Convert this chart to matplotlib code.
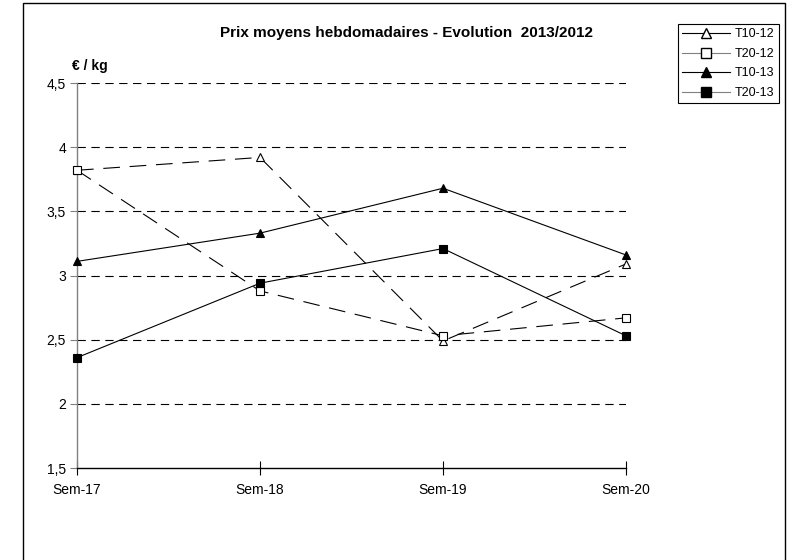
import matplotlib
matplotlib.use("Agg")
import matplotlib.pyplot as plt
from matplotlib.lines import Line2D
from matplotlib.patches import Rectangle

plt.rcParams['font.family'] = ['Liberation Sans', 'DejaVu Sans']
plt.rcParams['lines.scale_dashes'] = False

weeks = ["Sem-17", "Sem-18", "Sem-19", "Sem-20"]
t10_12 = [3.82, 3.92, 2.49, 3.09]
t20_12 = [3.82, 2.88, 2.53, 2.67]
t10_13 = [3.11, 3.33, 3.68, 3.16]
t20_13 = [2.36, 2.94, 3.21, 2.53]
yticks = [1.5, 2, 2.5, 3, 3.5, 4, 4.5]
ytick_labels = ["1,5", "2", "2,5", "3", "3,5", "4", "4,5"]

W, H = 794, 560
fig = plt.figure(figsize=(W / 100, H / 100), dpi=100)
ax = fig.add_axes([77 / W, 1 - 468 / H, (626 - 77) / W, (468 - 83) / H])

x = list(range(len(weeks)))
long_dash = (0, (12, 7))

ax.plot(x, t10_12, color='black', lw=0.8, linestyle=long_dash, marker='^',
        mfc='white', mec='black', ms=6, mew=0.8, clip_on=False, zorder=3)
ax.plot(x, t20_12, color='black', lw=0.8, linestyle=long_dash, marker='s',
        mfc='white', mec='black', ms=6, mew=0.8, clip_on=False, zorder=3)
ax.plot(x, t10_13, color='black', lw=0.8, linestyle='-', marker='^',
        mfc='black', mec='black', ms=6, mew=0.8, clip_on=False, zorder=3)
ax.plot(x, t20_13, color='black', lw=0.8, linestyle='-', marker='s',
        mfc='black', mec='black', ms=6, mew=0.8, clip_on=False, zorder=3)

ax.set_xlim(0, 3)
ax.set_ylim(1.5, 4.5)
ax.set_xticks(x)
ax.set_xticklabels(weeks, fontsize=10)
ax.set_yticks(yticks)
ax.set_yticklabels(ytick_labels, fontsize=10)

for v in yticks[1:]:
    ax.axhline(v, color='black', lw=0.8, linestyle=(0, (6, 4)), zorder=1)

for s in ['top', 'right']:
    ax.spines[s].set_visible(False)
ax.spines['left'].set_color('#808080')
ax.spines['left'].set_linewidth(1)
ax.spines['bottom'].set_color('black')
ax.spines['bottom'].set_linewidth(1)
ax.tick_params(axis='y', length=5, width=0.8, color='#808080', pad=3)
ax.tick_params(axis='x', direction='inout', length=10, width=0.8, color='black', pad=6)

fig.text(407 / W, 1 - 33 / H, "Prix moyens hebdomadaires - Evolution  2013/2012",
         ha='center', va='center', fontsize=11, fontweight='bold')
fig.text(72 / W, 1 - 66 / H, "€ / kg", ha='left', va='center',
         fontsize=10, fontweight='bold')

# outer chart frame
fig.patches.append(Rectangle((23 / W, -0.05), (785 - 23) / W, 1 - 3 / H + 0.05,
                             transform=fig.transFigure, fill=False,
                             edgecolor='black', lw=1))

handles = [
    Line2D([], [], color='black', lw=0.8, marker='^', mfc='white', mec='black', ms=7),
    Line2D([], [], color='#808080', lw=0.8, marker='s', mfc='white', mec='black', ms=7),
    Line2D([], [], color='black', lw=0.8, marker='^', mfc='black', mec='black', ms=7),
    Line2D([], [], color='#808080', lw=0.8, marker='s', mfc='black', mec='black', ms=7),
]
leg = fig.legend(handles, ["T10-12", "T20-12", "T10-13", "T20-13"],
                 loc='upper left', bbox_to_anchor=(678 / W, 1 - 24 / H),
                 fontsize=9, frameon=True, fancybox=False, framealpha=1,
                 edgecolor='black', borderpad=0.35, labelspacing=0.6,
                 handlelength=3.8, handletextpad=0.4, borderaxespad=0)
leg.get_frame().set_linewidth(0.8)

fig.savefig("out.png", dpi=100)
